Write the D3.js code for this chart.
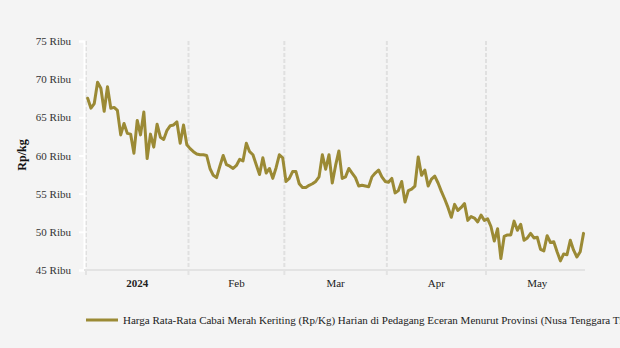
<!DOCTYPE html>
<html>
<head>
<meta charset="utf-8">
<script src="https://cdn.jsdelivr.net/npm/d3@7"></script>
<style>
  html, body { margin: 0; padding: 0; background: #f4f4f4; }
  svg { display: block; }
  text { font-family: "Liberation Serif", "DejaVu Serif", serif; }
</style>
</head>
<body>
<div id="chart"></div>
<script>
// ---- Data (Rp/kg, thousands) ----
const seriesName = "Harga Rata-Rata Cabai Merah Keriting (Rp/Kg) Harian di Pedagang Eceran Menurut Provinsi (Nusa Tenggara Timur)";
const startDate = "2024-01-01";
const janValues = [67.5, 66.2, 66.8, 69.6, 68.8, 65.8, 69.0, 66.2, 66.3, 65.9, 62.7, 64.2, 62.9, 62.8, 60.3, 64.6, 62.7, 65.7, 59.6, 62.8, 61.1, 64.1, 62.4, 62.1, 63.3, 63.9, 64.0, 64.4, 61.6, 64.0, 61.4];
const febValues = [60.9, 60.5, 60.2, 60.1, 60.1, 60.0, 58.3, 57.4, 57.1, 58.6, 60.0, 58.8, 58.6, 58.3, 58.7, 59.5, 59.3, 61.6, 60.5, 60.1, 58.8, 57.5, 59.7, 57.7, 58.3, 57.0, 58.4, 60.1, 59.7];
const marValues = [56.6, 57.0, 57.9, 57.9, 56.3, 55.8, 55.8, 56.1, 56.3, 56.6, 57.2, 60.1, 58.2, 60.1, 56.4, 58.7, 60.6, 57.0, 57.2, 58.3, 57.7, 57.1, 56.0, 56.1, 56.0, 55.9, 57.2, 57.7, 58.1, 57.2, 56.6];
const aprValues = [56.5, 57.0, 55.1, 55.4, 56.6, 53.9, 55.4, 55.6, 56.0, 59.8, 57.4, 58.1, 56.0, 56.9, 57.3, 56.4, 55.3, 54.3, 53.2, 51.9, 53.6, 52.8, 53.2, 53.7, 51.5, 52.0, 51.8, 51.3, 52.2, 51.5];
const mayValues = [51.7, 50.7, 48.8, 50.4, 46.5, 49.4, 49.6, 49.6, 51.4, 50.2, 51.0, 48.9, 49.2, 49.8, 49.2, 49.3, 47.7, 47.5, 49.5, 48.6, 48.7, 47.4, 46.2, 47.1, 47.0, 48.9, 47.6, 46.7, 47.4, 49.8];
const yTickValues = [45000, 50000, 55000, 60000, 65000, 70000, 75000];
const monthStarts = ["2024-01-01", "2024-02-01", "2024-03-01", "2024-04-01", "2024-05-01", "2024-06-01"];
const monthLabels = ["2024", "Feb", "Mar", "Apr", "May"];
const yTitle = "Rp/kg";

// ---- Build data ----
const parse = d3.utcParse("%Y-%m-%d");
const allValues = [].concat(janValues, febValues, marValues, aprValues, mayValues);
const t0 = parse(startDate);
const data = allValues.map((v, i) => ({
  date: d3.utcHour.offset(d3.utcDay.offset(t0, i), 12),
  value: v * 1000
}));
const months = monthStarts.map(parse);

// ---- Layout ----
const W = 620, H = 348;
const svg = d3.select("#chart").append("svg").attr("width", W).attr("height", H);
svg.append("rect").attr("width", W).attr("height", H).attr("fill", "#f4f4f4");

const x = d3.scaleUtc().domain([months[0], months[4]]).range([86, 486]);
const y = d3.scaleLinear().domain([45000, 75000]).range([270, 41]);

// vertical dashed month gridlines
svg.append("g").selectAll("line").data(months.slice(0, 5)).join("line")
  .attr("x1", d => x(d)).attr("x2", d => x(d))
  .attr("y1", 41).attr("y2", 270)
  .attr("stroke", "#e0e0e0").attr("stroke-width", 2)
  .attr("stroke-dasharray", "4,2");

// y axis (white)
const yAxis = d3.axisLeft(y).tickValues(yTickValues).tickSize(5).tickPadding(8)
  .tickFormat(d => (d / 1000) + " Ribu");
const gy = svg.append("g").attr("transform", "translate(84,0)").call(yAxis);
gy.select(".domain").attr("stroke", "#ffffff").attr("stroke-width", 2);
gy.selectAll(".tick line").attr("stroke", "#ffffff").attr("stroke-width", 2);
gy.selectAll(".tick text").attr("fill", "#333").style("font-size", "11px")
  .style("font-family", "'Liberation Serif', serif");

// x axis
const gx = svg.append("g").attr("transform", "translate(0,270)");
gx.append("line").attr("x1", 84).attr("x2", 556 + 0).attr("y1", 0).attr("y2", 0)
  .attr("x2", 585).attr("stroke", "#e3e3e3").attr("stroke-width", 2);
gx.selectAll("line.tk").data(months.slice(0, 5)).join("line").attr("class", "tk")
  .attr("x1", d => x(d)).attr("x2", d => x(d)).attr("y1", 0).attr("y2", 5)
  .attr("stroke", "#e3e3e3").attr("stroke-width", 2);
gx.selectAll("text").data(monthLabels).join("text")
  .attr("x", (d, i) => (x(months[i]) + x(months[i + 1])) / 2)
  .attr("y", 17)
  .attr("text-anchor", "middle")
  .attr("fill", "#222")
  .style("font-size", "11px")
  .style("font-weight", (d, i) => i === 0 ? "bold" : "normal")
  .text(d => d);

// y title
svg.append("text")
  .attr("transform", "translate(26,155) rotate(-90)")
  .attr("text-anchor", "middle")
  .attr("fill", "#111")
  .style("font-size", "12px").style("font-weight", "bold")
  .text(yTitle);

// line
const lineColor = "#9b8a35";
const line = d3.line().x(d => x(d.date)).y(d => y(d.value));
svg.append("path").datum(data)
  .attr("fill", "none").attr("stroke", lineColor)
  .attr("stroke-width", 3).attr("stroke-linejoin", "round").attr("stroke-linecap", "round")
  .attr("d", line);

// legend
const lg = svg.append("g").attr("transform", "translate(86,320)");
lg.append("line").attr("x1", 0).attr("x2", 32).attr("y1", 0).attr("y2", 0)
  .attr("stroke", lineColor).attr("stroke-width", 3);
lg.append("text").attr("x", 37).attr("y", 4).attr("fill", "#222")
  .style("font-size", "11px").text(seriesName);
</script>
</body>
</html>
